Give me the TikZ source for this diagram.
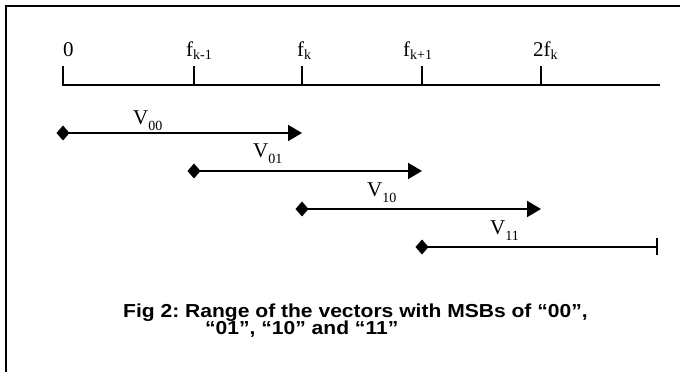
\documentclass[tikz,border=0pt]{standalone}
\usepackage{fontspec}
\setmainfont{Liberation Serif}
\newfontfamily\capfont[FakeStretch=1.12]{Liberation Sans}
\usetikzlibrary{arrows.meta}
\newcommand{\lo}[2][3pt]{\raisebox{-#1}{\fontsize{14}{14}\selectfont #2}}
\frenchspacing

\begin{document}
\begin{tikzpicture}[x=1pt, y=1pt,
    font=\fontsize{21}{22}\selectfont,
    frame/.style={line width=2.3pt},
    axis/.style={line width=2pt},
    tick/.style={line width=2.5pt},
    lbl/.style={anchor=base west, inner sep=0pt},
    vec/.style={line width=2pt, {Diamond[length=13pt,width=15pt]}-{Triangle[length=14pt,width=16pt]}, shorten <=-6.5pt},
    vecbar/.style={line width=2pt, {Diamond[length=13pt,width=15pt]}-{Bar[width=17pt]}, shorten <=-6.5pt},
    caption/.style={anchor=base west, inner sep=0pt, font=\capfont\bfseries\fontsize{18.8}{20}\selectfont}
  ]
    \useasboundingbox (0,0) rectangle (680,372);
    \draw[frame] (6,0) -- (6,366) -- (680,366);

    \coordinate (a0) at (63,287);
    \coordinate (a1) at (194,287);
    \coordinate (a2) at (302,287);
    \coordinate (a3) at (422,287);
    \coordinate (a4) at (541,287);
    \coordinate (aend) at (660,287);

    \draw[axis] (a0) ++(0,19) -- (a0) -- (aend);
    \draw[tick] (a1) -- ++(0,19);
    \draw[tick] (a2) -- ++(0,19);
    \draw[tick] (a3) -- ++(0,19);
    \draw[tick] (a4) -- ++(0,19);

    \node[lbl] (l0) at (63,315) {0};
    \node[lbl] (l1) at (186,315) {f\lo{k-1}};
    \node[lbl] (l2) at (297,315) {f\lo{k}};
    \node[lbl] (l3) at (403,315) {f\lo{k+1}};
    \node[lbl] (l4) at (533,315) {2f\lo{k}};

    \coordinate (s00) at (63,239);
    \coordinate (e00) at (302,239);
    \coordinate (s01) at (194,201);
    \coordinate (e01) at (422,201);
    \coordinate (s10) at (302,163);
    \coordinate (e10) at (541,163);
    \coordinate (s11) at (422,125);
    \coordinate (e11) at (658,125);

    \draw[vec] (s00) -- (e00);
    \draw[vec] (s01) -- (e01);
    \draw[vec] (s10) -- (e10);
    \draw[vecbar] (s11) -- (e11);

    \node[lbl] (v00) at (133,247) {V\lo[6pt]{00}};
    \node[lbl] (v01) at (253,214) {V\lo[6pt]{01}};
    \node[lbl] (v10) at (367,175) {V\lo[6pt]{10}};
    \node[lbl] (v11) at (490,137) {V\lo[6pt]{11}};

    \node[caption] (cap1) at (123,54) {Fig 2: Range of the vectors with MSBs of “00”,};
    \node[caption] (cap2) at (205,37) {“01”, “10” and “11”};
\end{tikzpicture}
\end{document}
